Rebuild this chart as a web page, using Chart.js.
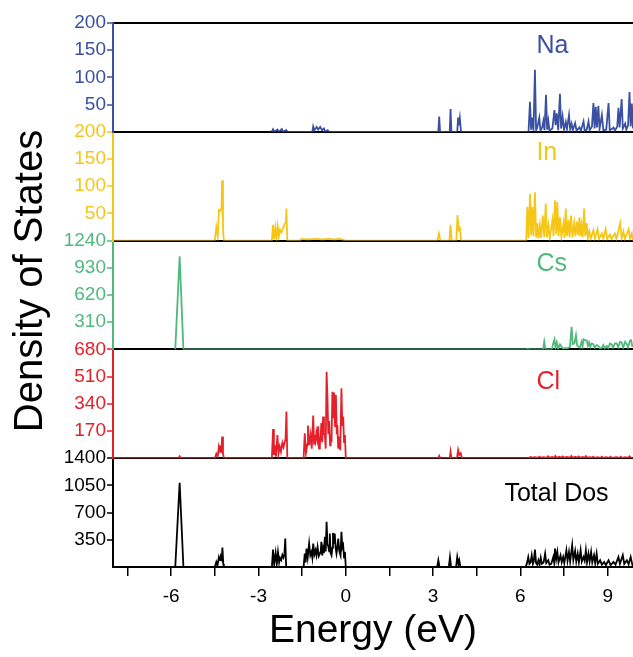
<!DOCTYPE html>
<html>
<head>
<meta charset="utf-8">
<title>Density of States</title>
<script src="https://cdn.jsdelivr.net/npm/chart.js@4"></script>
<style>
  html, body { margin: 0; padding: 0; background: #fff; }
  canvas { display: block; }
</style>
</head>
<body>
<canvas id="dos" width="633" height="657"></canvas>
<script>
// projected DOS, [energy (eV), states] pairs
const naDos = [
    [-2.55, 0], [-2.5, 5], [-2.45, 0], [-2.35, 4], [-2.3, 0], [-2.2, 5], [-2.15, 0], [-2.05, 3], [-2.0, 0],
    [-1.15, 0], [-1.12, 10], [-1.08, 3], [-1.0, 9], [-0.95, 4], [-0.88, 9], [-0.82, 3], [-0.75, 6], [-0.7, 0], [-0.62, 3], [-0.58, 0],
    [3.18, 0], [3.21, 28], [3.24, 0],
    [3.57, 0], [3.6, 42], [3.63, 0],
    [3.83, 0], [3.86, 26], [3.89, 12], [3.92, 25], [3.96, 0],
    [6.28, 0], [6.33, 55], [6.37, 4], [6.41, 26], [6.45, 2], [6.5, 114], [6.54, 3], [6.58, 8], [6.65, 26], [6.69, 2],
    [6.75, 8], [6.79, 20], [6.83, 3], [6.88, 68], [6.92, 4], [6.96, 20], [7.0, 2], [7.1, 6], [7.17, 40], [7.21, 12],
    [7.25, 34], [7.3, 3], [7.36, 70], [7.4, 6], [7.45, 28], [7.5, 4], [7.56, 18], [7.6, 5], [7.67, 31], [7.71, 5],
    [7.76, 15], [7.8, 3], [7.88, 16], [7.93, 2], [8.03, 8], [8.08, 2], [8.17, 19], [8.21, 2], [8.28, 4], [8.34, 19],
    [8.38, 3], [8.46, 10], [8.51, 53], [8.55, 6], [8.59, 46], [8.63, 8], [8.68, 48], [8.72, 5], [8.8, 31], [8.85, 3],
    [8.95, 4], [9.03, 53], [9.07, 3], [9.14, 5], [9.2, 8], [9.25, 2], [9.33, 10], [9.37, 44], [9.41, 8], [9.48, 60],
    [9.52, 6], [9.6, 15], [9.64, 4], [9.7, 12], [9.75, 73], [9.79, 10], [9.83, 52], [9.87, 6]
];

const inDos = [
    [-8, 0], [-4.5, 0], [-4.45, 25], [-4.4, 8], [-4.36, 56], [-4.32, 54], [-4.27, 60], [-4.25, 111], [-4.22, 20], [-4.19, 0],
    [-2.54, 0], [-2.5, 29], [-2.46, 2], [-2.42, 24], [-2.38, 4], [-2.34, 26], [-2.3, 8], [-2.26, 20], [-2.21, 15],
    [-2.16, 22], [-2.12, 28], [-2.06, 34], [-2.04, 59], [-2.01, 0],
    [-1.6, 0], [-1.5, 3], [-1.3, 2], [-1.0, 3], [-0.8, 2], [-0.6, 3], [-0.4, 2], [-0.2, 3], [0, 0],
    [3.15, 0], [3.2, 13], [3.25, 0],
    [3.56, 0], [3.6, 29], [3.64, 0],
    [3.8, 0], [3.84, 47], [3.88, 20], [3.92, 23], [3.96, 0],
    [6.2, 0], [6.24, 62], [6.28, 5], [6.33, 86], [6.37, 10], [6.41, 62], [6.45, 8], [6.5, 89], [6.54, 6], [6.58, 32],
    [6.62, 4], [6.67, 28], [6.71, 5], [6.77, 46], [6.82, 6], [6.87, 68], [6.91, 6], [6.96, 28], [7.01, 4], [7.1, 38],
    [7.14, 8], [7.19, 74], [7.23, 12], [7.27, 71], [7.31, 8], [7.36, 43], [7.41, 6], [7.48, 32], [7.52, 5], [7.56, 59],
    [7.6, 8], [7.65, 38], [7.69, 6], [7.74, 46], [7.79, 6], [7.85, 32], [7.89, 8], [7.94, 35], [7.98, 10], [8.03, 43],
    [8.06, 8], [8.1, 28], [8.14, 6], [8.19, 59], [8.23, 8], [8.28, 32], [8.32, 5], [8.37, 17], [8.42, 4], [8.51, 19],
    [8.56, 4], [8.65, 21], [8.7, 3], [8.8, 13], [8.85, 4], [8.93, 21], [8.98, 3], [9.08, 11], [9.13, 3], [9.25, 13],
    [9.3, 3], [9.43, 32], [9.48, 4], [9.54, 17], [9.59, 3], [9.72, 21], [9.77, 4], [9.83, 13], [9.87, 0]
];

const csDos = [
    [-5.86, 0], [-5.71, 1060], [-5.58, 0],
    [6.2, 0], [6.25, 8], [6.3, 0],
    [6.78, 0], [6.82, 87], [6.86, 0],
    [7.08, 0], [7.13, 70], [7.17, 114], [7.21, 20], [7.25, 80], [7.3, 10], [7.36, 58], [7.4, 40], [7.45, 10], [7.55, 18],
    [7.6, 12], [7.7, 25], [7.76, 258], [7.8, 60], [7.86, 70], [7.91, 160], [7.95, 46], [8.0, 30], [8.05, 20], [8.1, 87],
    [8.14, 40], [8.17, 114], [8.22, 103], [8.28, 103], [8.32, 40], [8.36, 80], [8.4, 30], [8.45, 68], [8.51, 57], [8.55, 20],
    [8.62, 50], [8.68, 40], [8.73, 12], [8.8, 20], [8.85, 50], [8.9, 15], [8.97, 40], [9.02, 15], [9.08, 68], [9.14, 57],
    [9.18, 20], [9.25, 68], [9.31, 68], [9.36, 25], [9.43, 87], [9.48, 80], [9.53, 20], [9.6, 87], [9.66, 57], [9.7, 25],
    [9.77, 103], [9.8, 114], [9.85, 30]
];

const clDos = [
    [-8, 0], [-5.75, 0], [-5.71, 12], [-5.67, 0],
    [-4.5, 0], [-4.45, 28], [-4.4, 10], [-4.36, 72], [-4.32, 40], [-4.3, 62], [-4.27, 50], [-4.25, 135], [-4.22, 30], [-4.19, 0],
    [-2.54, 0], [-2.5, 183], [-2.47, 20], [-2.44, 80], [-2.4, 10], [-2.35, 145], [-2.31, 30], [-2.27, 72], [-2.23, 40],
    [-2.18, 97], [-2.14, 70], [-2.1, 101], [-2.07, 120], [-2.04, 291], [-2.01, 0],
    [-1.45, 0], [-1.41, 156], [-1.37, 30], [-1.35, 50], [-1.32, 90], [-1.3, 204], [-1.26, 80], [-1.21, 145], [-1.17, 60],
    [-1.12, 266], [-1.09, 90], [-1.07, 145], [-1.04, 110], [-1.01, 160], [-0.98, 120], [-0.95, 200], [-0.92, 60],
    [-0.89, 90], [-0.86, 150], [-0.84, 219], [-0.81, 100], [-0.78, 260], [-0.75, 150], [-0.72, 145], [-0.69, 60],
    [-0.66, 540], [-0.63, 375], [-0.6, 150], [-0.57, 233], [-0.54, 80], [-0.52, 145], [-0.49, 100], [-0.46, 415],
    [-0.43, 250], [-0.4, 410], [-0.37, 200], [-0.34, 395], [-0.31, 150], [-0.29, 208], [-0.26, 60], [-0.23, 135],
    [-0.19, 50], [-0.15, 437], [-0.12, 200], [-0.09, 260], [-0.06, 100], [-0.03, 145], [0, 0],
    [3.18, 0], [3.21, 14], [3.24, 0], [3.57, 0], [3.6, 41], [3.63, 0], [3.82, 0], [3.86, 52], [3.9, 20], [3.95, 31], [3.99, 0],
    [6.3, 0], [6.35, 8], [6.4, 3], [6.5, 6], [6.6, 2], [6.65, 10], [6.7, 3], [6.8, 7], [6.9, 2], [6.95, 12], [7.0, 3],
    [7.1, 8], [7.15, 2], [7.2, 14], [7.25, 3], [7.35, 9], [7.4, 2], [7.45, 11], [7.5, 3], [7.6, 8], [7.7, 3], [7.75, 14],
    [7.8, 3], [7.9, 9], [7.95, 2], [8.0, 11], [8.05, 3], [8.15, 8], [8.2, 2], [8.25, 13], [8.3, 3], [8.4, 7], [8.45, 2],
    [8.5, 10], [8.55, 2], [8.65, 7], [8.75, 2], [8.8, 9], [8.85, 2], [8.95, 6], [9.05, 2], [9.1, 10], [9.15, 2], [9.3, 6],
    [9.4, 2], [9.45, 9], [9.5, 2], [9.6, 6], [9.7, 2], [9.75, 12], [9.8, 2], [9.87, 0]
];

const totalDos = [
    [-8, 0], [-5.86, 0], [-5.71, 1085], [-5.58, 0],
    [-4.5, 0], [-4.45, 65], [-4.41, 20], [-4.36, 129], [-4.32, 90], [-4.29, 129], [-4.26, 100], [-4.24, 250], [-4.21, 40], [-4.19, 0],
    [-2.54, 0], [-2.5, 224], [-2.46, 30], [-2.41, 180], [-2.37, 40], [-2.33, 190], [-2.29, 60], [-2.26, 116], [-2.22, 90],
    [-2.18, 155], [-2.14, 120], [-2.11, 160], [-2.08, 366], [-2.05, 0],
    [-1.45, 0], [-1.41, 173], [-1.38, 60], [-1.35, 237], [-1.31, 120], [-1.26, 302], [-1.22, 150], [-1.18, 194],
    [-1.15, 120], [-1.12, 302], [-1.08, 160], [-1.04, 216], [-1.01, 150], [-0.97, 259], [-0.93, 140], [-0.89, 173],
    [-0.86, 200], [-0.84, 323], [-0.81, 150], [-0.78, 237], [-0.75, 180], [-0.72, 388], [-0.69, 200], [-0.66, 581],
    [-0.63, 300], [-0.6, 259], [-0.57, 200], [-0.55, 431], [-0.52, 180], [-0.49, 151], [-0.46, 250], [-0.44, 439],
    [-0.41, 300], [-0.38, 431], [-0.35, 250], [-0.32, 173], [-0.29, 250], [-0.26, 366], [-0.22, 200], [-0.18, 150],
    [-0.15, 452], [-0.12, 250], [-0.09, 280], [-0.06, 120], [-0.03, 194], [0, 0],
    [3.14, 0], [3.18, 86], [3.22, 0], [3.54, 0], [3.58, 129], [3.62, 0], [3.79, 0], [3.83, 129], [3.87, 40], [3.9, 86], [3.94, 0],
    [6.18, 0], [6.22, 40], [6.27, 129], [6.31, 40], [6.35, 60], [6.39, 151], [6.43, 40], [6.46, 70], [6.5, 224], [6.54, 50],
    [6.58, 30], [6.62, 86], [6.66, 30], [6.7, 120], [6.74, 40], [6.8, 60], [6.85, 172], [6.89, 50], [6.96, 86], [7.0, 30],
    [7.06, 40], [7.13, 129], [7.16, 60], [7.19, 237], [7.23, 100], [7.27, 194], [7.31, 60], [7.38, 151], [7.42, 60],
    [7.47, 129], [7.51, 50], [7.58, 216], [7.62, 80], [7.67, 194], [7.71, 70], [7.78, 280], [7.82, 90], [7.88, 207],
    [7.92, 70], [7.97, 172], [8.01, 60], [8.07, 216], [8.11, 70], [8.17, 129], [8.21, 80], [8.25, 216], [8.29, 60],
    [8.34, 172], [8.38, 70], [8.43, 194], [8.47, 60], [8.53, 151], [8.57, 50], [8.62, 172], [8.66, 40], [8.74, 86],
    [8.8, 30], [8.88, 65], [8.94, 25], [9.03, 86], [9.1, 25], [9.2, 65], [9.27, 30], [9.37, 129], [9.42, 40], [9.52, 151],
    [9.57, 40], [9.66, 86], [9.72, 35], [9.79, 129], [9.84, 40], [9.87, 0]
];

// axis ranges and ticks
const energyMin = -8;
const energyMax = 9.87;
const energyTicks = [-7.5, -6, -4.5, -3, -1.5, 0, 1.5, 3, 4.5, 6, 7.5, 9];
const naMax = 200, naStep = 50;
const inMax = 200, inStep = 50;
const csMax = 1240, csStep = 310;
const clMax = 680, clStep = 170;
const totalMax = 1400, totalStep = 350;

const FONT = '"Liberation Sans", Arial, Helvetica, sans-serif';

const colors = {
    na: '#3a50a2',
    in: '#f6c616',
    cs: '#4fb97c',
    cl: '#e5202a',
    total: '#000000'
};

// panel names, placed at an energy and a level of their own axis
const panelLabels = [
    { text: 'Na', axis: 'yNa', color: colors.na, energy: 6.55, level: 158 },
    { text: 'In', axis: 'yIn', color: colors.in, energy: 6.55, level: 160 },
    { text: 'Cs', axis: 'yCs', color: colors.cs, energy: 6.55, level: 975 },
    { text: 'Cl', axis: 'yCl', color: colors.cl, energy: 6.55, level: 478 },
    { text: 'Total Dos', axis: 'yTotal', color: colors.total, energy: 5.45, level: 940 }
];

const CLEAR = 'rgba(0,0,0,0)';

function toPoints(pairs) {
    return pairs.map(p => ({ x: p[0], y: p[1] }));
}

function panelAxis(color, max, step, isTop) {
    return {
        type: 'linear',
        position: 'left',
        stack: 'dos',
        stackWeight: 1,
        min: 0,
        max: max,
        border: { color: color, width: 2 },
        grid: {
            // only the panel baseline (and the very top edge) is drawn across
            color: ctx => {
                if (!ctx.tick) return CLEAR;
                if (ctx.tick.value === 0 || (isTop && ctx.tick.value === max)) return '#000';
                return CLEAR;
            },
            lineWidth: 2,
            // the zero tick sits under the next panel's top tick, leave it out
            tickColor: ctx => (ctx.tick && ctx.tick.value === 0 ? CLEAR : color),
            tickLength: 6,
            tickWidth: 1.5
        },
        ticks: {
            stepSize: step,
            autoSkip: false,
            color: color,
            padding: 1,
            font: { family: FONT, size: 19 },
            callback: v => (v === 0 ? '' : v)
        },
        afterFit: scale => { scale.width = 113; }
    };
}

function dosLine(label, pairs, color, axisId) {
    return {
        label: label,
        data: toPoints(pairs),
        yAxisID: axisId,
        borderColor: color,
        borderWidth: 1.8,
        pointRadius: 0,
        tension: 0,
        fill: false
    };
}

// axis title and the element names
const textPlugin = {
    id: 'dosText',
    afterDraw(chart) {
        const ctx = chart.ctx;
        ctx.save();
        ctx.textBaseline = 'middle';

        ctx.font = '25px ' + FONT;
        ctx.textAlign = 'left';
        panelLabels.forEach(lbl => {
            const x = chart.scales.x.getPixelForValue(lbl.energy);
            const y = chart.scales[lbl.axis].getPixelForValue(lbl.level);
            ctx.fillStyle = lbl.color;
            ctx.fillText(lbl.text, x, y);
        });

        ctx.translate(31, 281);
        ctx.rotate(-Math.PI / 2);
        ctx.textAlign = 'center';
        ctx.font = '40px ' + FONT;
        ctx.fillStyle = '#000';
        ctx.fillText('Density of States', 0, 0);
        ctx.restore();
    }
};

const ctx = document.getElementById('dos').getContext('2d');

new Chart(ctx, {
    type: 'line',
    data: {
        datasets: [
            dosLine('Total Dos', totalDos, colors.total, 'yTotal'),
            dosLine('Cl', clDos, colors.cl, 'yCl'),
            dosLine('Cs', csDos, colors.cs, 'yCs'),
            dosLine('In', inDos, colors.in, 'yIn'),
            dosLine('Na', naDos, colors.na, 'yNa')
        ]
    },
    options: {
        responsive: false,
        animation: false,
        devicePixelRatio: 1,
        layout: { padding: { top: 23, right: 0, left: 0, bottom: 0 } },
        plugins: {
            legend: { display: false },
            tooltip: { enabled: false }
        },
        scales: {
            x: {
                type: 'linear',
                position: 'bottom',
                min: energyMin,
                max: energyMax,
                border: { color: '#000', width: 2 },
                grid: {
                    drawOnChartArea: false,
                    color: '#000',
                    tickLength: 9,
                    lineWidth: 1.5
                },
                afterBuildTicks: scale => {
                    scale.ticks = energyTicks.map(v => ({ value: v }));
                },
                ticks: {
                    autoSkip: false,
                    maxRotation: 0,
                    color: '#000',
                    padding: 9,
                    font: { family: FONT, size: 19 },
                    callback: v => (Math.abs(v % 3) < 1e-9 ? String(v) : '')
                },
                title: {
                    display: true,
                    text: 'Energy (eV)',
                    color: '#000',
                    font: { family: FONT, size: 39 },
                    padding: { top: 0, bottom: 2 }
                },
                afterFit: scale => { scale.height = 90; }
            },
            // defined bottom to top, left stacks place the last one highest
            yTotal: panelAxis(colors.total, totalMax, totalStep, false),
            yCl: panelAxis(colors.cl, clMax, clStep, false),
            yCs: panelAxis(colors.cs, csMax, csStep, false),
            yIn: panelAxis(colors.in, inMax, inStep, false),
            yNa: panelAxis(colors.na, naMax, naStep, true)
        }
    },
    plugins: [textPlugin]
});
</script>
</body>
</html>
